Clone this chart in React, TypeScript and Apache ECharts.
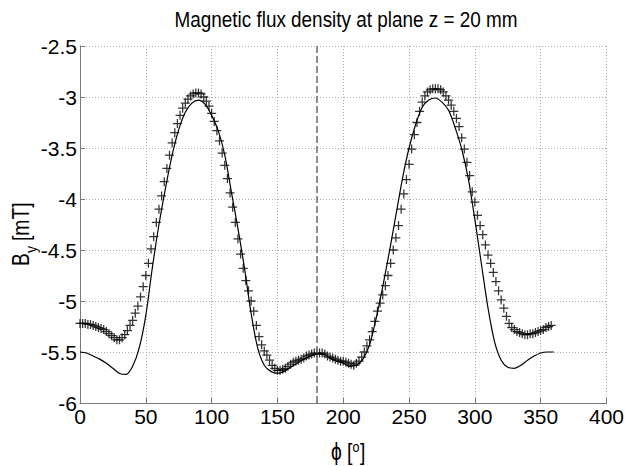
import React, { useEffect, useRef } from "react";
import * as echarts from "echarts";

const FONT = "'Liberation Sans', Arial, sans-serif";

const TITLE = "Magnetic flux density at plane z = 20 mm";
const X_TICKS = [0, 50, 100, 150, 200, 250, 300, 350, 400];
const Y_TICKS = [-6, -5.5, -5, -4.5, -4, -3.5, -3, -2.5];
const MARK_PHI = 180;

// Simulated curve (solid line)
const LINE_PHI = [
  0, 5, 10, 15, 20, 25, 30, 35, 40, 45, 50, 55, 60, 65, 70, 75, 80, 85, 90, 95,
  100, 105, 110, 115, 120, 125, 130, 135, 140, 145, 150, 155, 160, 165, 170, 175,
  180, 185, 190, 195, 200, 205, 210, 215, 220, 225, 230, 235, 240, 245, 250, 255,
  260, 265, 270, 275, 280, 285, 290, 295, 300, 305, 310, 315, 320, 325, 330, 335,
  340, 345, 350, 355, 360,
];
const LINE_B = [
  -5.5, -5.51, -5.54, -5.57, -5.61, -5.66, -5.71, -5.72, -5.64, -5.46, -5.14, -4.67,
  -4.25, -3.89, -3.57, -3.32, -3.15, -3.06, -3.03, -3.07, -3.18, -3.33, -3.57, -3.93,
  -4.29, -4.68, -5.12, -5.46, -5.63, -5.69, -5.71, -5.69, -5.65, -5.61, -5.57, -5.54,
  -5.52, -5.52, -5.56, -5.59, -5.61, -5.64, -5.63, -5.57, -5.43, -5.17, -4.86, -4.52,
  -4.16, -3.8, -3.5, -3.27, -3.1, -3.03, -3.01, -3.05, -3.13, -3.3, -3.51, -3.8,
  -4.2, -4.64, -5.07, -5.4, -5.58, -5.65, -5.66, -5.63, -5.58, -5.54, -5.51, -5.5,
  -5.5,
];

// Measured values ("+" markers)
const MEAS_PHI = [
  0, 2, 4, 6, 8, 10, 12, 14, 16, 18, 20, 22, 24, 26, 28, 30, 32, 34, 36, 38,
  40, 42, 44, 46, 48, 50, 52, 54, 56, 58, 60, 62, 64, 66, 68, 70, 72, 74, 76, 78,
  80, 82, 84, 86, 88, 90, 92, 94, 96, 98, 100, 102, 104, 106, 108, 110, 112, 114, 116, 118,
  120, 122, 124, 126, 128, 130, 132, 134, 136, 138, 140, 142, 144, 146, 148, 150, 152, 154, 156, 158,
  160, 162, 164, 166, 168, 170, 172, 174, 176, 178, 180, 182, 184, 186, 188, 190, 192, 194, 196, 198,
  200, 202, 204, 206, 208, 210, 212, 214, 216, 218, 220, 222, 224, 226, 228, 230, 232, 234, 236, 238,
  240, 242, 244, 246, 248, 250, 252, 254, 256, 258, 260, 262, 264, 266, 268, 270, 272, 274, 276, 278,
  280, 282, 284, 286, 288, 290, 292, 294, 296, 298, 300, 302, 304, 306, 308, 310, 312, 314, 316, 318,
  320, 322, 324, 326, 328, 330, 332, 334, 336, 338, 340, 342, 344, 346, 348, 350, 352, 354, 356, 358,
];
const MEAS_B = [
  -5.22, -5.22, -5.22, -5.23, -5.23, -5.24, -5.25, -5.26, -5.27, -5.28,
  -5.3, -5.32, -5.34, -5.36, -5.38, -5.38, -5.36, -5.33, -5.29, -5.24,
  -5.19, -5.12, -5.05, -4.96, -4.86, -4.75, -4.63, -4.49, -4.37, -4.23,
  -4.1, -3.97, -3.83, -3.7, -3.57, -3.45, -3.35, -3.26, -3.18, -3.11,
  -3.06, -3.02, -2.99, -2.97, -2.96, -2.96, -2.97, -3.0, -3.04, -3.09,
  -3.16, -3.24, -3.33, -3.43, -3.55, -3.67, -3.8, -3.94, -4.08, -4.23,
  -4.39, -4.54, -4.68, -4.8, -4.9, -5.0, -5.1, -5.24, -5.35, -5.43,
  -5.49, -5.53, -5.58, -5.63, -5.66, -5.68, -5.68, -5.67, -5.66, -5.64,
  -5.62, -5.6, -5.59, -5.58, -5.57, -5.56, -5.54, -5.53, -5.52, -5.51,
  -5.51, -5.51, -5.51, -5.52, -5.54, -5.55, -5.56, -5.57, -5.58, -5.59,
  -5.59, -5.6, -5.61, -5.62, -5.63, -5.61, -5.59, -5.55, -5.5, -5.44,
  -5.38, -5.3, -5.2, -5.1, -5.02, -4.94, -4.85, -4.75, -4.63, -4.5,
  -4.38, -4.26, -4.1, -3.95, -3.81, -3.66, -3.51, -3.37, -3.25, -3.14,
  -3.05, -2.99, -2.95, -2.93, -2.92, -2.92, -2.92, -2.93, -2.95, -2.99,
  -3.03, -3.08, -3.14, -3.21, -3.29, -3.4, -3.51, -3.64, -3.77, -3.93,
  -4.03, -4.16, -4.26, -4.35, -4.45, -4.55, -4.63, -4.72, -4.81, -4.9,
  -4.99, -5.07, -5.15, -5.22, -5.26, -5.28, -5.3, -5.31, -5.32, -5.33,
  -5.33, -5.32, -5.32, -5.31, -5.3, -5.29, -5.28, -5.26, -5.25, -5.24,
];

const PLUS = "path://M4.3,0H5.7V4.3H10V5.7H5.7V10H4.3V5.7H0V4.3H4.3Z";

export default function App() {
  const ref = useRef<HTMLDivElement>(null);
  useEffect(() => {
    if (!ref.current) return;
    const chart = echarts.init(ref.current, undefined, { renderer: "svg" });
    const lineData = LINE_PHI.map((p, i) => [p, LINE_B[i]]);
    const measData = MEAS_PHI.map((p, i) => [p, MEAS_B[i]]);
    const axisColor = "#7a7a7a";
    const gridLine = { show: true, lineStyle: { type: [1, 2], color: "#b0b0b0", width: 1 } };
    const txt = (text: string, x: number, y: number, size: number, sx = 0.84) => ({
      type: "text",
      x,
      y,
      scaleX: sx,
      style: { text, fontSize: size, fontFamily: FONT, fill: "#000", align: "left", verticalAlign: "bottom" },
    });
    chart.setOption({
      animation: false,
      backgroundColor: "#fff",
      grid: { left: 80, right: 16, top: 46, bottom: 63, containLabel: false },
      xAxis: {
        type: "value",
        min: X_TICKS[0],
        max: X_TICKS[X_TICKS.length - 1],
        interval: 50,
        axisLine: { show: true, lineStyle: { color: axisColor, width: 1 } },
        axisTick: { show: true, inside: true, length: 5, lineStyle: { color: axisColor } },
        axisLabel: { color: "#000", fontSize: 21, fontFamily: FONT, margin: 3 },
        splitLine: gridLine,
      },
      yAxis: {
        type: "value",
        min: Y_TICKS[0],
        max: Y_TICKS[Y_TICKS.length - 1],
        interval: 0.5,
        axisLine: { show: true, lineStyle: { color: axisColor, width: 1 } },
        axisTick: { show: true, inside: true, length: 5, lineStyle: { color: axisColor } },
        axisLabel: { color: "#000", fontSize: 21, fontFamily: FONT, margin: 3 },
        splitLine: gridLine,
      },
      series: [
        {
          type: "line",
          data: lineData,
          symbol: "none",
          showSymbol: false,
          smooth: 0.3,
          lineStyle: { color: "#000", width: 1.2 },
          z: 3,
          markLine: {
            silent: true,
            symbol: "none",
            label: { show: false },
            lineStyle: { color: "#6a6a6a", type: [7, 3], width: 1.5 },
            data: [{ xAxis: MARK_PHI }],
          },
        },
        {
          type: "scatter",
          data: measData,
          symbol: PLUS,
          symbolSize: 9,
          itemStyle: { color: "#000" },
          z: 4,
        },
      ],
      graphic: [
        {
          type: "text",
          x: 346,
          y: 19,
          scaleX: 0.86,
          style: {
            text: TITLE,
            fontSize: 22,
            fontFamily: FONT,
            fill: "#000",
            align: "center",
            verticalAlign: "middle",
          },
        },
        {
          type: "group",
          x: 32,
          y: 266,
          rotation: Math.PI / 2,
          children: [
            txt("B", 0, 0, 23),
            txt("y", 13, 8, 17),
            txt("[mT]", 25, 0, 23),
          ],
        },
        {
          type: "group",
          x: 331,
          y: 463,
          children: [
            txt("\u03D5", 0, 0, 23),
            txt("[", 16, 0, 23),
            txt("o", 21.5, -9, 15),
            txt("]", 29, 0, 23),
          ],
        },
      ],
    });
    return () => chart.dispose();
  }, []);
  return <div ref={ref} style={{ width: 627, height: 466, position: "absolute", left: 0, top: 0 }} />;
}
